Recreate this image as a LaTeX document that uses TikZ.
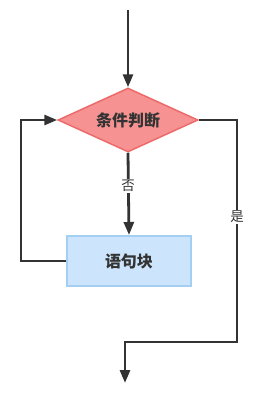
\documentclass[tikz,border=0pt]{standalone}
\usepackage{fontspec}
\newfontfamily\cjk{Noto Sans CJK SC}
\usetikzlibrary{arrows.meta,shapes.geometric}
\definecolor{linegray}{HTML}{333333}
\definecolor{condfill}{HTML}{F69292}
\definecolor{conddraw}{HTML}{EE6A6A}
\definecolor{blkfill}{HTML}{CCE5FC}
\definecolor{blkdraw}{HTML}{A2CFF2}

\begin{document}
\begin{tikzpicture}[x=1pt,y=-1pt,
		flow/.style={line width=2.8pt, draw=linegray, -{Triangle[length=13pt,width=10pt]}},
		lbl/.style={fill=white, inner sep=1.5pt, font=\cjk\fontsize{13.5}{15}\selectfont, text=linegray}]
		\useasboundingbox (0,0) rectangle (263,408);
		\node[diamond, aspect=2.15, minimum width=140pt, minimum height=64pt, inner sep=0pt,
			fill=condfill, draw=conddraw, line width=1.5pt,
			font=\cjk\bfseries\fontsize{16}{18}\selectfont, text=linegray] (cond) at (128,120) {条件判断};
		\node[rectangle, minimum width=124pt, minimum height=50pt, inner sep=0pt,
			fill=blkfill, draw=blkdraw, line width=2pt,
			font=\cjk\bfseries\fontsize{16}{18}\selectfont, text=linegray] (blk) at (129,261) {语句块};
		\coordinate (start) at (128,10);
		\coordinate (back) at (21,261);
		\coordinate (yesR) at (237,342);
		\coordinate (stop) at (125,383);
		\draw[flow] (start) -- (cond.north);
		\draw[flow] (cond.south) -- (blk.north);
		\draw[flow] (blk.west) -- (back) |- (cond.west);
		\draw[flow] (cond.east) -| (yesR) -| (stop);
		\node[lbl] (no) at (128,186) {否};
		\node[lbl] (yes) at (237,217) {是};
	\end{tikzpicture}
\end{document}
